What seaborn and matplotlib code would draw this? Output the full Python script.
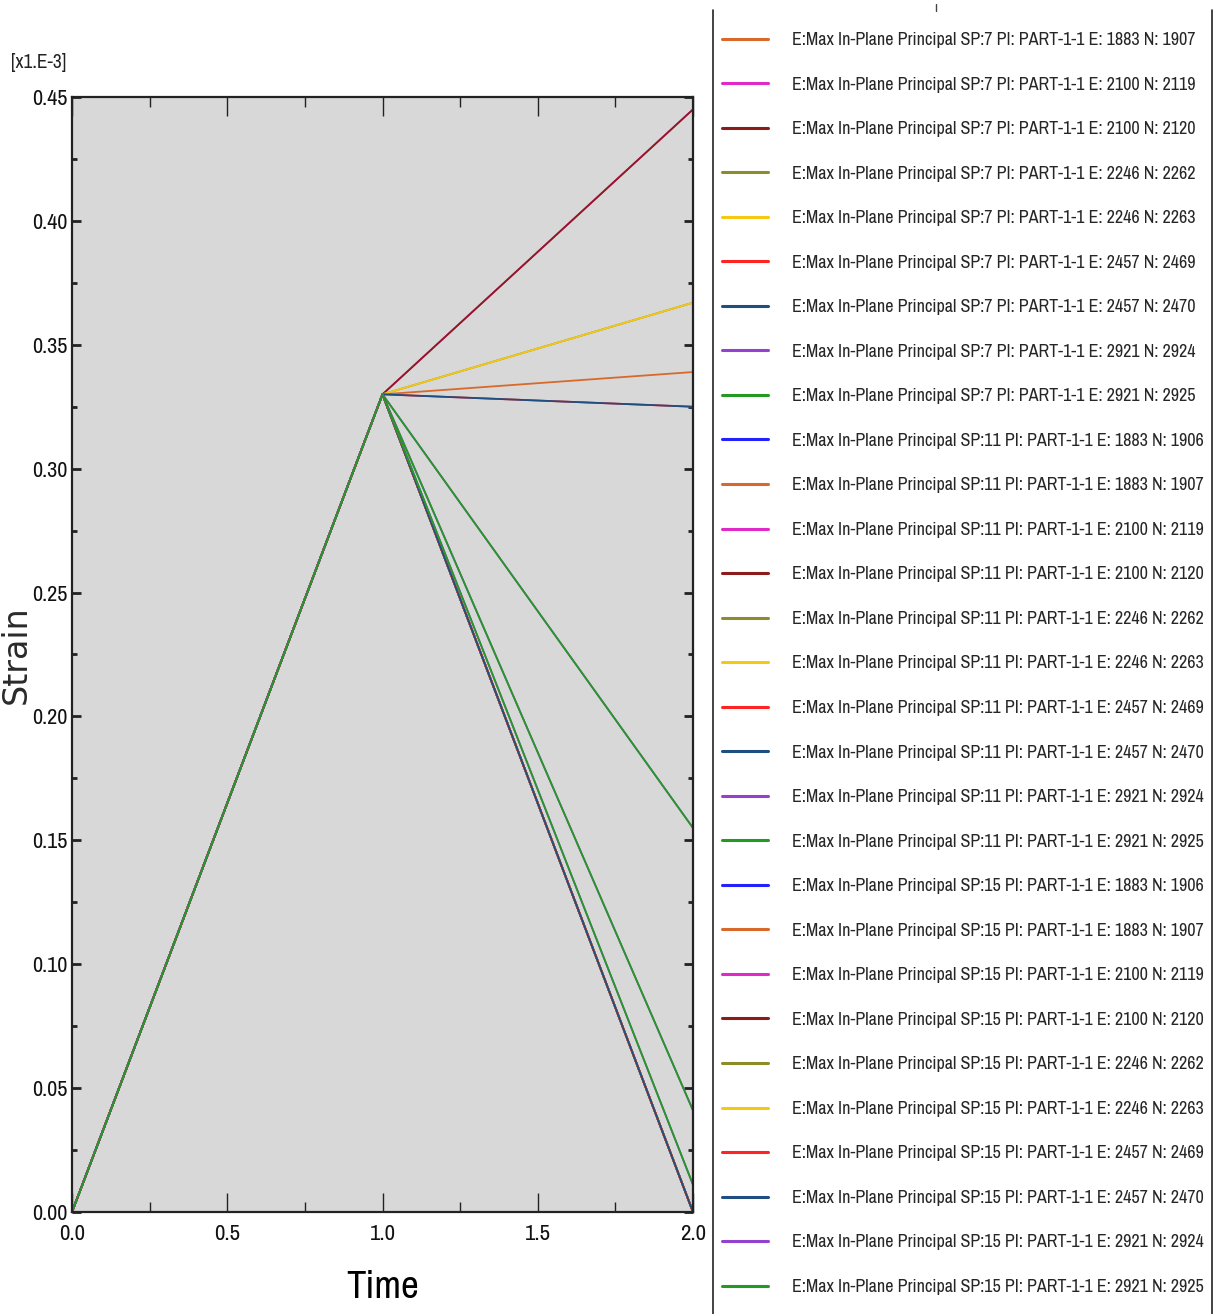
import matplotlib
matplotlib.use("Agg")
import matplotlib.pyplot as plt
from matplotlib import font_manager
from matplotlib.lines import Line2D
from matplotlib.ticker import MultipleLocator, AutoMinorLocator
import numpy as np
import pandas as pd
import seaborn as sns

# ---- data -------------------------------------------------------------
time_points = [0.0, 1.0, 2.0]
peak_strain = 0.33          # strain (x1.E-3) reached at end of step 1

section_points = ["SP:7", "SP:11", "SP:15"]
elements = [1883, 1883, 2100, 2100, 2246, 2246, 2457, 2457, 2921, 2921]
nodes = [1906, 1907, 2119, 2120, 2262, 2263, 2469, 2470, 2924, 2925]
node_colors = ["#2222ff", "#d8692a", "#e02ac8", "#8c1c1c", "#8c8c28",
               "#f5c814", "#ff2424", "#1f4e80", "#9440d0", "#249924"]

# strain at t = 2.0 for each node, per section point (None = not output)
end_sp7 = [None, 0.339, 0.445, 0.445, 0.367, 0.367, 0.325, 0.325, 0.155, 0.155]
end_sp11 = [0.0, 0.0, 0.0, 0.0, 0.0, 0.0, 0.0, 0.0, 0.041, 0.041]
end_sp15 = [0.0, 0.0, 0.0, 0.0, 0.0, 0.0, 0.0, 0.0, 0.011, 0.011]
end_values = {"SP:7": end_sp7, "SP:11": end_sp11, "SP:15": end_sp15}

# ---- long-form table ----------------------------------------------------
rows = []
hue_order = []
palette = {}
for sp in section_points:
    for el, nd, col, end in zip(elements, nodes, node_colors, end_values[sp]):
        if end is None:
            continue
        name = f"E:Max In-Plane Principal {sp} PI: PART-1-1 E: {el} N: {nd}"
        hue_order.append(name)
        palette[name] = col
        for t, v in zip(time_points, [0.0, peak_strain, end]):
            rows.append({"Time": t, "Strain": v, "curve": name})
df = pd.DataFrame(rows)

# ---- fonts: prefer a narrow face for the plot annotations -----------------
sns.set_theme(style="white")
fonts = font_manager.fontManager.ttflist
narrow_family, narrow_stretch = "DejaVu Sans", "normal"
for f in fonts:
    if "Narrow" in f.name or "Condensed" in f.name:
        narrow_family, narrow_stretch = f.name, "normal"
        break
else:
    for f in fonts:
        if f.name == "DejaVu Sans" and f.stretch in ("condensed", "semi-condensed"):
            narrow_stretch = "condensed"
            break
plt.rcParams["font.family"] = [narrow_family, "DejaVu Sans"]
plt.rcParams["font.stretch"] = narrow_stretch

# ---- figure -------------------------------------------------------------
W, H = 1219, 1314
fig = plt.figure(figsize=(W / 100, H / 100), dpi=100)
ax = fig.add_axes([72 / W, 1 - 1212 / H, (693 - 72) / W, (1212 - 97) / H])
ax.set_facecolor("#d8d8d8")

sns.lineplot(data=df, x="Time", y="Strain", hue="curve", hue_order=hue_order,
             palette=palette, estimator=None, sort=False, linewidth=1.3,
             ax=ax, legend=True)

ax.set_xlim(0, 2.0)
ax.set_ylim(0, 0.45)
ax.xaxis.set_major_locator(MultipleLocator(0.5))
ax.xaxis.set_minor_locator(AutoMinorLocator(2))
ax.yaxis.set_major_locator(MultipleLocator(0.05))
ax.yaxis.set_minor_locator(AutoMinorLocator(2))
ax.xaxis.set_major_formatter(lambda v, p: f"{v:.1f}")
ax.yaxis.set_major_formatter(lambda v, p: f"{v:.2f}")

ax.tick_params(axis="x", which="major", direction="in", length=14, width=1.0,
               top=True, bottom=True, color="#222222", labelsize=16.5, pad=9)
ax.tick_params(axis="x", which="minor", direction="in", length=7, width=1.0,
               top=True, bottom=True, color="#222222")
ax.tick_params(axis="y", which="major", direction="in", length=6.5, width=2.0,
               left=True, right=True, color="#222222", labelsize=16, pad=3)
ax.tick_params(axis="y", which="minor", direction="in", length=3.5, width=2.0,
               left=True, right=True, color="#222222")
for lab in ax.get_xticklabels() + ax.get_yticklabels():
    lab.set_color("#111111")
for s in ax.spines.values():
    s.set_linewidth(1.6)
    s.set_color("#222222")
    s.set_visible(True)

ax.set_xlabel("Time", fontsize=28, color="black", labelpad=18)
ax.set_ylabel("Strain", fontsize=24, color="#2a2a2a", family="DejaVu Sans",
              fontstretch="normal")
ax.yaxis.set_label_coords(-0.064, 0.5)
fig.text(11 / W, 1 - 63 / H, "[x1.E-3]", fontsize=14, color="#222222",
         ha="left", va="center")

# ---- legend -------------------------------------------------------------
handles, labels = ax.get_legend_handles_labels()
ax.get_legend().remove()
for h in handles:
    h.set_linewidth(2.2)

fig.canvas.draw()
renderer = fig.canvas.get_renderer()

leg_size = 11.0            # points
leg_spacing = 1.5          # in font-size units
top_anchor = 1 - 20 / H
leg = None
for _ in range(4):
    if leg is not None:
        leg.remove()
    leg = fig.legend(handles, labels, loc="upper left",
                     bbox_to_anchor=(722 / W, top_anchor),
                     frameon=False, fontsize=leg_size,
                     handlelength=46 / (leg_size * 100 / 72),
                     handletextpad=24 / (leg_size * 100 / 72),
                     labelspacing=leg_spacing, borderpad=0, borderaxespad=0)
    fig.canvas.draw()
    texts = leg.get_texts()
    first = texts[0].get_window_extent(renderer)
    last = texts[-1].get_window_extent(renderer)
    # fit label width, row pitch and first-row position
    leg_size *= 404 / first.width
    pitch = (first.y0 + first.height / 2 - (last.y0 + last.height / 2)) / (len(texts) - 1)
    leg_spacing += (44.5 - pitch) / (leg_size * 100 / 72)
    first_center = H - (first.y0 + first.height / 2)
    top_anchor += (first_center - 40) / H

# legend panel side rules
fig.add_artist(Line2D([713 / W, 713 / W], [0, 1 - 10 / H], color="#222222",
                      linewidth=1.2, transform=fig.transFigure))
fig.add_artist(Line2D([1212 / W, 1212 / W], [0, 1 - 10 / H], color="#222222",
                      linewidth=1.2, transform=fig.transFigure))
fig.add_artist(Line2D([936 / W, 936 / W], [1 - 4 / H, 1 - 11 / H],
                      color="#444444", linewidth=1.0, transform=fig.transFigure))

fig.savefig("out.png", dpi=100, facecolor="white")
